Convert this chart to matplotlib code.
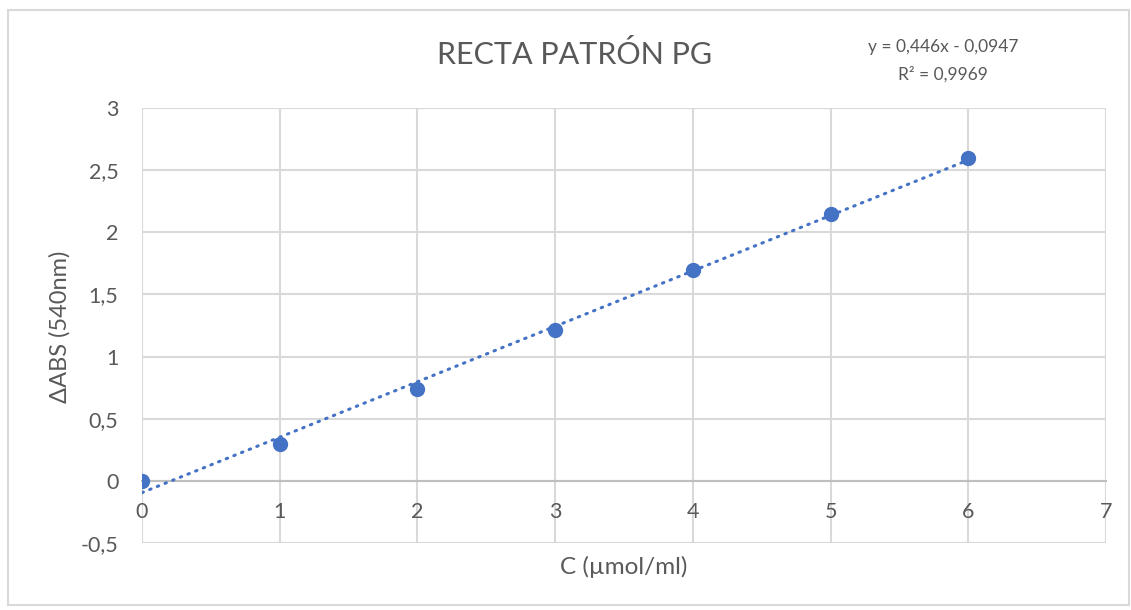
import matplotlib.pyplot as plt
import numpy as np
from matplotlib.patches import Rectangle

# data
conc = [0, 1, 2, 3, 4, 5, 6]
dabs = [0.00, 0.30, 0.74, 1.21, 1.70, 2.15, 2.60]
slope, intercept = 0.446, -0.0947
r2 = 0.9969

x_ticks = [0, 1, 2, 3, 4, 5, 6, 7]
y_ticks = [-0.5, 0, 0.5, 1, 1.5, 2, 2.5, 3]

BLUE = "#4472C4"
GRID = "#D9D9D9"
TEXT = "#595959"

plt.rcParams["font.family"] = ["Lato", "DejaVu Sans"]


def comma(v):
    s = f"{v:g}"
    return s.replace(".", ",")


def main() -> None:
    fig = plt.figure(figsize=(11.31, 6.10), dpi=100)
    fig.patches.append(Rectangle((8 / 1131, 5 / 610), 1121 / 1131, 595 / 610,
                                 transform=fig.transFigure, fill=False,
                                 edgecolor=GRID, linewidth=1.5))

    ax = fig.add_axes([142 / 1131, 1 - 543 / 610, 964 / 1131, 435 / 610])
    ax.set_xlim(0, 7)
    ax.set_ylim(-0.5, 3)

    for side in ("top", "right", "left"):
        ax.spines[side].set_visible(False)
    ax.spines["bottom"].set_position(("data", 0))
    ax.spines["bottom"].set_color("#BFBFBF")
    ax.spines["bottom"].set_linewidth(1.5)
    ax.spines["bottom"].set_zorder(1)

    ax.set_xticks(x_ticks)
    ax.set_yticks(y_ticks)
    ax.set_yticklabels([comma(v) for v in y_ticks])
    ax.tick_params(axis="both", length=0, labelsize=15.5, colors=TEXT)
    ax.tick_params(axis="x", pad=15)
    ax.tick_params(axis="y", pad=17)
    ax.grid(True, color=GRID, linewidth=1.5, zorder=0)
    ax.set_axisbelow(True)

    # outer frame lines of the plot area
    ax.axhline(-0.5, color=GRID, linewidth=1.5, zorder=0)
    ax.axhline(3, color=GRID, linewidth=1.5, zorder=0)
    ax.axvline(0, color=GRID, linewidth=1.5, zorder=0)
    ax.axvline(7, color=GRID, linewidth=1.5, zorder=0)

    xs = np.array([conc[0], conc[-1]], dtype=float)
    ax.plot(xs, slope * xs + intercept, color=BLUE, linewidth=2.2,
            linestyle=(0, (0.5, 2.2)), dash_capstyle="round", zorder=3)
    ax.plot(conc, dabs, "o", color=BLUE, markersize=10, zorder=4)

    fig.text(575 / 1131, 1 - 55 / 610, "RECTA PATRÓN PG", ha="center",
             va="center", fontsize=22, color=TEXT)
    fig.text(943 / 1131, 1 - 47 / 610, "y = 0,446x - 0,0947", ha="center",
             va="center", fontsize=12.5, color=TEXT)
    fig.text(943 / 1131, 1 - 74 / 610, f"R² = {comma(r2)}", ha="center",
             va="center", fontsize=12.5, color=TEXT)
    fig.text(624 / 1131, 1 - 567 / 610, "C (µmol/ml)", ha="center",
             va="center", fontsize=17.5, color=TEXT)
    fig.text(60 / 1131, 1 - 327 / 610, "ΔABS (540nm)", ha="center",
             va="center", fontsize=17, color=TEXT, rotation=90)

    fig.savefig("out.png", dpi=100)
    plt.close(fig)


if __name__ == "__main__":
    main()
